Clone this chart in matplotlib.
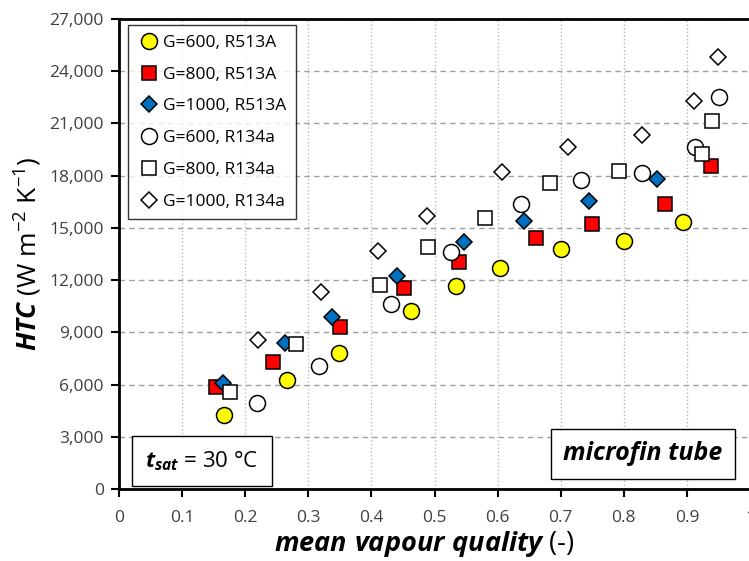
import matplotlib
matplotlib.use("Agg")
import matplotlib.pyplot as plt
from matplotlib.ticker import FuncFormatter, MultipleLocator

plt.rcParams["font.family"] = ["Open Sans", "DejaVu Sans"]
plt.rcParams["mathtext.fontset"] = "custom"
plt.rcParams["mathtext.rm"] = "Open Sans"
plt.rcParams["mathtext.it"] = "Open Sans:italic"
plt.rcParams["mathtext.bf"] = "Open Sans:bold"
plt.rcParams["mathtext.bfit"] = "Open Sans:italic:bold"

# G=600, R513A
x_600_513 = [0.167, 0.266, 0.349, 0.462, 0.534, 0.604, 0.700, 0.800, 0.893]
y_600_513 = [4250, 6260, 7830, 10220, 11680, 12710, 13790, 14270, 15320]
# G=800, R513A
x_800_513 = [0.153, 0.244, 0.350, 0.452, 0.538, 0.661, 0.749, 0.865, 0.938]
y_800_513 = [5840, 7280, 9330, 11540, 13040, 14440, 15220, 16350, 18570]
# G=1000, R513A
x_1000_513 = [0.164, 0.263, 0.338, 0.440, 0.547, 0.642, 0.745, 0.852]
y_1000_513 = [6110, 8400, 9860, 12230, 14200, 15400, 16560, 17790]
# G=600, R134a
x_600_134 = [0.218, 0.317, 0.431, 0.526, 0.637, 0.732, 0.828, 0.913, 0.951]
y_600_134 = [4960, 7070, 10630, 13590, 16370, 17750, 18130, 19660, 22540]
# G=800, R134a
x_800_134 = [0.176, 0.281, 0.413, 0.490, 0.580, 0.683, 0.792, 0.924, 0.940]
y_800_134 = [5555, 8330, 11720, 13910, 15590, 17600, 18290, 19245, 21140]
# G=1000, R134a
x_1000_134 = [0.221, 0.320, 0.410, 0.488, 0.607, 0.712, 0.828, 0.911, 0.950]
y_1000_134 = [8560, 11300, 13680, 15680, 18190, 19630, 20340, 22300, 24800]

fig = plt.figure(figsize=(7.49, 5.61), dpi=100)
ax = fig.add_axes([0.1589, 0.1283, 0.8425, 0.8378])

ew = 1.1
ax.plot(x_600_513, y_600_513, ls="none", marker="o", ms=11.5, mfc="#FFFF00", mec="black", mew=ew, label="G=600, R513A", zorder=3)
ax.plot(x_800_513, y_800_513, ls="none", marker="s", ms=10.5, mfc="#FF0000", mec="black", mew=ew, label="G=800, R513A", zorder=3)
ax.plot(x_1000_513, y_1000_513, ls="none", marker="D", ms=7.8, mfc="#0070C0", mec="black", mew=ew, label="G=1000, R513A", zorder=3)
ax.plot(x_600_134, y_600_134, ls="none", marker="o", ms=11.5, mfc="white", mec="black", mew=ew, label="G=600, R134a", zorder=3)
ax.plot(x_800_134, y_800_134, ls="none", marker="s", ms=10.5, mfc="white", mec="black", mew=ew, label="G=800, R134a", zorder=3)
ax.plot(x_1000_134, y_1000_134, ls="none", marker="D", ms=7.8, mfc="white", mec="black", mew=ew, label="G=1000, R134a", zorder=3)

ax.set_xlim(0, 1)
ax.set_ylim(0, 27000)
ax.xaxis.set_major_locator(MultipleLocator(0.1))
ax.yaxis.set_major_locator(MultipleLocator(3000))
ax.xaxis.set_major_formatter(FuncFormatter(lambda v, p: "0" if abs(v) < 1e-9 else ("1" if abs(v - 1) < 1e-9 else f"{v:.1f}")))
ax.yaxis.set_major_formatter(FuncFormatter(lambda v, p: f"{int(round(v)):,}"))
ax.tick_params(axis="both", direction="out", length=6, width=1.5, labelsize=12.5, colors="black", labelcolor="#404040")
ax.tick_params(axis="x", pad=9)
ax.tick_params(axis="y", pad=5)

ax.grid(axis="x", color="#b8b8b8", ls=":", lw=1.0)
ax.grid(axis="y", color="#a0a0a0", ls=(0, (4, 3)), lw=1.0)
ax.set_axisbelow(True)

for s in ["left", "bottom", "top"]:
    ax.spines[s].set_linewidth(2)
ax.spines["right"].set_visible(False)

ax.set_xlabel(r"$\mathbfit{mean\ vapour\ quality}$ (-)", fontsize=19.5, labelpad=2)
ax.xaxis.set_label_coords(0.484, -0.085, transform=ax.transAxes)
ax.xaxis.label.set_va("top")
ax.set_ylabel(r"$\mathbfit{HTC}$ (W m$^{-2}$ K$^{-1}$)", fontsize=19, labelpad=4)

leg = ax.legend(loc="upper left", bbox_to_anchor=(0.0135, 0.987), fontsize=12.5, frameon=True,
                fancybox=False, edgecolor="black", borderpad=0.55, labelspacing=0.9,
                handletextpad=0.1, handlelength=1.4, borderaxespad=0)
leg.get_frame().set_linewidth(1.0)

ax.text(0.1315, 0.0596, r"$\mathbfit{t}_{\mathbfit{sat}}$ = 30 °C", transform=ax.transAxes,
        fontsize=16, ha="center", va="center",
        bbox=dict(boxstyle="square,pad=0.6", fc="white", ec="black", lw=1.0))
ax.text(0.830, 0.0755, "microfin tube", transform=ax.transAxes, fontsize=18,
        fontweight="bold", style="italic", ha="center", va="center",
        bbox=dict(boxstyle="square,pad=0.5", fc="white", ec="black", lw=1.0))

fig.savefig("out.png", dpi=100)
